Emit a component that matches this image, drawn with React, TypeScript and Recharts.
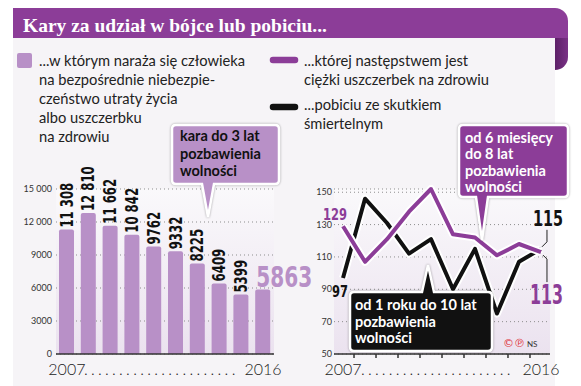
import React from 'react';
import { BarChart, Bar, LineChart, Line, XAxis, YAxis, CartesianGrid, LabelList } from 'recharts';

const years = ['2007', '2008', '2009', '2010', '2011', '2012', '2013', '2014', '2015', '2016'];
const endangermentCases = [11308, 12810, 11662, 10842, 9762, 9332, 8225, 6409, 5399, 5863];
const injuryCases = [129, 107, 121, 138, 152, 124, 122, 111, 118, 113];
const deathCases = [97, 146, 131, 112, 121, 90, 115, 75, 107, 115];
const barTicks = [0, 3000, 6000, 9000, 12000, 15000];
const lineTicks = [50, 70, 90, 110, 130, 150];
const yearMarks = [0, 0.5, 1.5, 2.5, 3.5, 4.5, 5.5, 6.5, 7.5, 8.5, 9];

const title = 'Kary za udział w bójce lub pobiciu...';
const legendEndangerment = ['...w którym naraża się człowieka', 'na bezpośrednie niebezpie-', 'czeństwo utraty życia', 'albo uszczerbku', 'na zdrowiu'];
const legendInjury = ['...której następstwem jest', 'ciężki uszczerbek na zdrowiu'];
const legendDeath = ['...pobiciu ze skutkiem', 'śmiertelnym'];
const noteEndangerment = ['kara do 3 lat', 'pozbawienia', 'wolności'];
const noteInjury = ['od 6 miesięcy', 'do 8 lat', 'pozbawienia', 'wolności'];
const noteDeath = ['od 1 roku do 10 lat', 'pozbawienia', 'wolności'];

const PURPLE = '#8c3d98';
const LILAC = '#b890c7';
const INK = '#111111';
const SANS = "Lato, 'Open Sans', sans-serif";
const NARROW = "'Liberation Sans Narrow', 'DejaVu Sans Condensed', Roboto, sans-serif";
const DOTS = '.'.repeat(22);

const barData = years.map((year, i) => ({ year, cases: endangermentCases[i] }));
const lineData = years.map((year, i) => ({ idx: i, year, injury: injuryCases[i], death: deathCases[i] }));

const formatThousands = (v: number) => (v >= 10000 ? `${Math.floor(v / 1000)} ${String(v % 1000).padStart(3, '0')}` : String(v));

// the infographic uses a condensed bold face, squeeze the numbers to its width
const squeezed = (s: string, digit: number, space: number) =>
  s.split('').reduce((w, ch) => w + (ch === ' ' ? space : digit), 0);

const BarValueLabel = (props: any) => {
  const { x, y, width, value, index } = props;
  if (index === years.length - 1) {
    const s = String(value);
    return (
      <text x={x + 1} y={y - 3} fill={LILAC} fontSize={29} fontWeight={700} fontFamily={NARROW}
        textLength={squeezed(s, 14, 6)} lengthAdjust="spacingAndGlyphs">
        {s}
      </text>
    );
  }
  const cx = x + width / 2;
  const s = formatThousands(value);
  return (
    <text transform={`translate(${cx + 6}, ${y - 2}) rotate(-90)`} fill={INK} fontSize={17} fontWeight={700} fontFamily={NARROW}
      textLength={squeezed(s, 8.2, 3.8)} lengthAdjust="spacingAndGlyphs">
      {s}
    </text>
  );
};

const BarYearTick = (props: any) => {
  const { x, y, payload } = props;
  if (payload.value === years[0]) {
    return (
      <g fontFamily={SANS} fontSize={16} fontWeight={300} fill="#222">
        <text x={x} y={y + 21} textAnchor="middle">{payload.value}</text>
        <text x={x + 17} y={y + 21} letterSpacing={3.3}>{DOTS}</text>
      </g>
    );
  }
  if (payload.value === years[years.length - 1]) {
    return (
      <text x={x} y={y + 21} textAnchor="middle" fontFamily={SANS} fontSize={16} fontWeight={300} fill="#222">
        {payload.value}
      </text>
    );
  }
  return <g />;
};

const LineYearTick = (props: any) => {
  const { x, y, payload } = props;
  const v = payload.value;
  if (v === 0) {
    return (
      <g fontFamily={SANS} fontSize={16} fontWeight={300} fill="#222">
        <text x={x} y={y + 21} textAnchor="middle">{years[0]}</text>
        <text x={x + 18} y={y + 21} letterSpacing={3.2}>{DOTS}</text>
      </g>
    );
  }
  if (v === years.length - 1) {
    return (
      <text x={x} y={y + 21} textAnchor="middle" fontFamily={SANS} fontSize={16} fontWeight={300} fill="#222">
        {years[years.length - 1]}
      </text>
    );
  }
  return <line x1={x} x2={x} y1={y} y2={y + 4} stroke="#333" strokeWidth={1.5} />;
};

const InjuryLabel = (props: any) => {
  const { x, y, value, index } = props;
  const s = String(value);
  if (index === 0) {
    return (
      <text x={x + 4} y={y - 6} textAnchor="end" fill={PURPLE} fontSize={16} fontWeight={700} fontFamily={NARROW}
        textLength={24} lengthAdjust="spacingAndGlyphs">
        {s}
      </text>
    );
  }
  if (index === years.length - 1) {
    return (
      <g>
        <path d={`M${x + 2},${y + 3} L${x + 6},${y + 7} L${x + 6},${y + 30}`} stroke="#222" strokeWidth={1} fill="none" />
        <text x={x - 11} y={y + 52} fill={PURPLE} fontSize={27} fontWeight={700} fontFamily={NARROW}
          textLength={33} lengthAdjust="spacingAndGlyphs">
          {s}
        </text>
      </g>
    );
  }
  return <g />;
};

const DeathLabel = (props: any) => {
  const { x, y, value, index } = props;
  const s = String(value);
  if (index === 0) {
    return (
      <text x={x + 5} y={y + 19} textAnchor="end" fill={INK} fontSize={16} fontWeight={700} fontFamily={NARROW}
        textLength={16} lengthAdjust="spacingAndGlyphs">
        {s}
      </text>
    );
  }
  if (index === years.length - 1) {
    return (
      <g>
        <path d={`M${x + 6},${y - 19} L${x + 6},${y - 7} L${x + 1},${y - 2}`} stroke="#222" strokeWidth={1} fill="none" />
        <text x={x - 8} y={y - 23} fill={INK} fontSize={22} fontWeight={700} fontFamily={NARROW}
          textLength={30} lengthAdjust="spacingAndGlyphs">
          {s}
        </text>
      </g>
    );
  }
  return <g />;
};

// speech bubble outline: rounded box plus a pointer towards (tipX, tipY)
const bubblePath = (x: number, y: number, w: number, h: number, baseX: number, baseW: number, tipX: number, tipY: number) => {
  const r = 4;
  const R = x + w;
  const B = y + h;
  const top = tipY < y
    ? `H${baseX - baseW / 2} L${tipX},${tipY} L${baseX + baseW / 2},${y} H${R - r}`
    : `H${R - r}`;
  const bottom = tipY > B
    ? `H${baseX + baseW / 2} L${tipX},${tipY} L${baseX - baseW / 2},${B} H${x + r}`
    : `H${x + r}`;
  return `M${x + r},${y} ${top} Q${R},${y} ${R},${y + r} V${B - r} Q${R},${B} ${R - r},${B} ${bottom} Q${x},${B} ${x},${B - r} V${y + r} Q${x},${y} ${x + r},${y} Z`;
};

const Bubble = ({ x, y, w, h, baseX, tipX, tipY, fill, color, lines, lineHeight, textX, firstBaseline }: any) => (
  <g>
    <path
      d={bubblePath(x, y, w, h, baseX, 12, tipX, tipY)}
      fill={fill}
      stroke="#fff"
      strokeWidth={2.5}
      style={{ filter: 'drop-shadow(0 0 1.2px rgba(0,0,0,0.35))' }}
    />
    {lines.map((line: string, i: number) => (
      <text key={line} x={textX} y={firstBaseline + i * lineHeight} fill={color} fontSize={14.5} fontWeight={700} fontFamily={SANS}>
        {line}
      </text>
    ))}
  </g>
);

const App = () => {
  return (
    <div style={{ position: 'absolute', left: 0, top: 0, width: 581, height: 386, background: '#fff', overflow: 'hidden' }}>
      {/* panel and ribbon */}
      <div style={{ position: 'absolute', left: 13, top: 38, width: 542, height: 348, background: '#f6f4f7' }} />
      <div style={{ position: 'absolute', left: 555, top: 36, width: 13, height: 34, background: 'linear-gradient(90deg, #5c2067, #7a3286)', borderBottomRightRadius: 13 }} />
      <div style={{ position: 'absolute', left: 13, top: 8, width: 555, height: 30, background: PURPLE, borderTopRightRadius: 13 }} />
      <div style={{ position: 'absolute', left: 56, top: 189, width: 218, height: 165, background: 'linear-gradient(180deg, #faf9fb 0%, #ebe2ef 100%)' }} />
      <div style={{ position: 'absolute', left: 334, top: 189, width: 216, height: 165, background: 'linear-gradient(180deg, #faf9fb 0%, #ebe2ef 100%)' }} />

      <div style={{ position: 'absolute', left: 0, top: 0 }}>
        <BarChart width={330} height={386} data={barData} margin={{ top: 189, right: 56, bottom: 0, left: 0 }} barCategoryGap={0}>
          <CartesianGrid vertical={false} stroke="#8d8d8d" strokeDasharray="1 3" />
          <XAxis
            dataKey="year"
            interval={0}
            height={32}
            tickSize={0}
            tickMargin={0}
            tickLine={false}
            axisLine={{ stroke: '#333', strokeWidth: 1.5 }}
            tick={<BarYearTick />}
          />
          <YAxis
            domain={[0, 15000]}
            ticks={barTicks}
            width={56}
            tickSize={0}
            tickMargin={4}
            tickLine={false}
            axisLine={false}
            tickFormatter={formatThousands}
            tick={{ fontSize: 9, fill: '#333', fontFamily: SANS }}
          />
          <Bar dataKey="cases" fill={LILAC} barSize={15} radius={[2, 2, 0, 0]} isAnimationActive={false}>
            <LabelList dataKey="cases" content={<BarValueLabel />} />
          </Bar>
        </BarChart>
      </div>

      <div style={{ position: 'absolute', left: 300, top: 0 }}>
        <LineChart width={281} height={386} data={lineData} margin={{ top: 189, right: 31, bottom: 0, left: 0 }}>
          <CartesianGrid vertical={false} stroke="#8d8d8d" strokeDasharray="1 3" />
          <XAxis
            type="number"
            dataKey="idx"
            domain={[-0.41, 9.41]}
            ticks={yearMarks}
            interval={0}
            height={32}
            tickSize={0}
            tickMargin={0}
            tickLine={false}
            axisLine={{ stroke: '#333', strokeWidth: 1.5 }}
            tick={<LineYearTick />}
          />
          <YAxis
            domain={[50, 150]}
            ticks={lineTicks}
            width={34}
            tickSize={0}
            tickMargin={2}
            tickLine={false}
            axisLine={false}
            tick={{ fontSize: 9, fill: '#333', fontFamily: SANS }}
          />
          <Line dataKey="death" stroke="#fff" strokeWidth={8} dot={false} strokeLinejoin="round" isAnimationActive={false} />
          <Line dataKey="death" stroke={INK} strokeWidth={4} dot={false} strokeLinejoin="round" isAnimationActive={false}>
            <LabelList dataKey="death" content={<DeathLabel />} />
          </Line>
          <Line dataKey="injury" stroke="#fff" strokeWidth={8} dot={false} strokeLinejoin="round" isAnimationActive={false} />
          <Line dataKey="injury" stroke={PURPLE} strokeWidth={4} dot={false} strokeLinejoin="round" isAnimationActive={false}>
            <LabelList dataKey="injury" content={<InjuryLabel />} />
          </Line>
        </LineChart>
      </div>

      {/* title, legend, callouts */}
      <svg width={581} height={386} style={{ position: 'absolute', left: 0, top: 0, pointerEvents: 'none' }}>
        <text x={23} y={31.5} fill="#fff" fontSize={19.5} fontWeight={700} fontFamily="'Liberation Serif', 'DejaVu Serif', serif">
          {title}
        </text>

        <rect x={17} y={53} width={15} height={15} rx={2} fill={LILAC} />
        {legendEndangerment.map((line, i) => (
          <text key={line} x={39} y={65.5 + i * 19} fill="#222" fontSize={14.7} fontFamily={SANS}>{line}</text>
        ))}

        <line x1={273} x2={295} y1={60} y2={60} stroke={PURPLE} strokeWidth={6.5} strokeLinecap="round" />
        {legendInjury.map((line, i) => (
          <text key={line} x={304} y={65.5 + i * 19.5} fill="#222" fontSize={14.7} fontFamily={SANS}>{line}</text>
        ))}
        <line x1={273} x2={295} y1={107} y2={107} stroke={INK} strokeWidth={6.5} strokeLinecap="round" />
        {legendDeath.map((line, i) => (
          <text key={line} x={304} y={110 + i * 19} fill="#222" fontSize={14.7} fontFamily={SANS}>{line}</text>
        ))}

        <Bubble x={172} y={125} w={107} h={59} baseX={208} tipX={208} tipY={217} fill={LILAC} color={INK}
          lines={noteEndangerment} lineHeight={17.5} textX={180} firstBaseline={141} />
        <Bubble x={459} y={125} w={109} h={72} baseX={482} tipX={482} tipY={240} fill={PURPLE} color="#fff"
          lines={noteInjury} lineHeight={16.3} textX={465} firstBaseline={143} />
        <Bubble x={350} y={292} w={142} h={59} baseX={428} tipX={428} tipY={265} fill={INK} color="#fff"
          lines={noteDeath} lineHeight={16.7} textX={355} firstBaseline={310} />

        <text x={503} y={347} fill="#e0343c" fontSize={11} fontFamily="'DejaVu Sans', sans-serif">©℗</text>
        <text x={527} y={347} fill="#333" fontSize={8} fontFamily={SANS}>NS</text>
      </svg>
    </div>
  );
};

export default App;
